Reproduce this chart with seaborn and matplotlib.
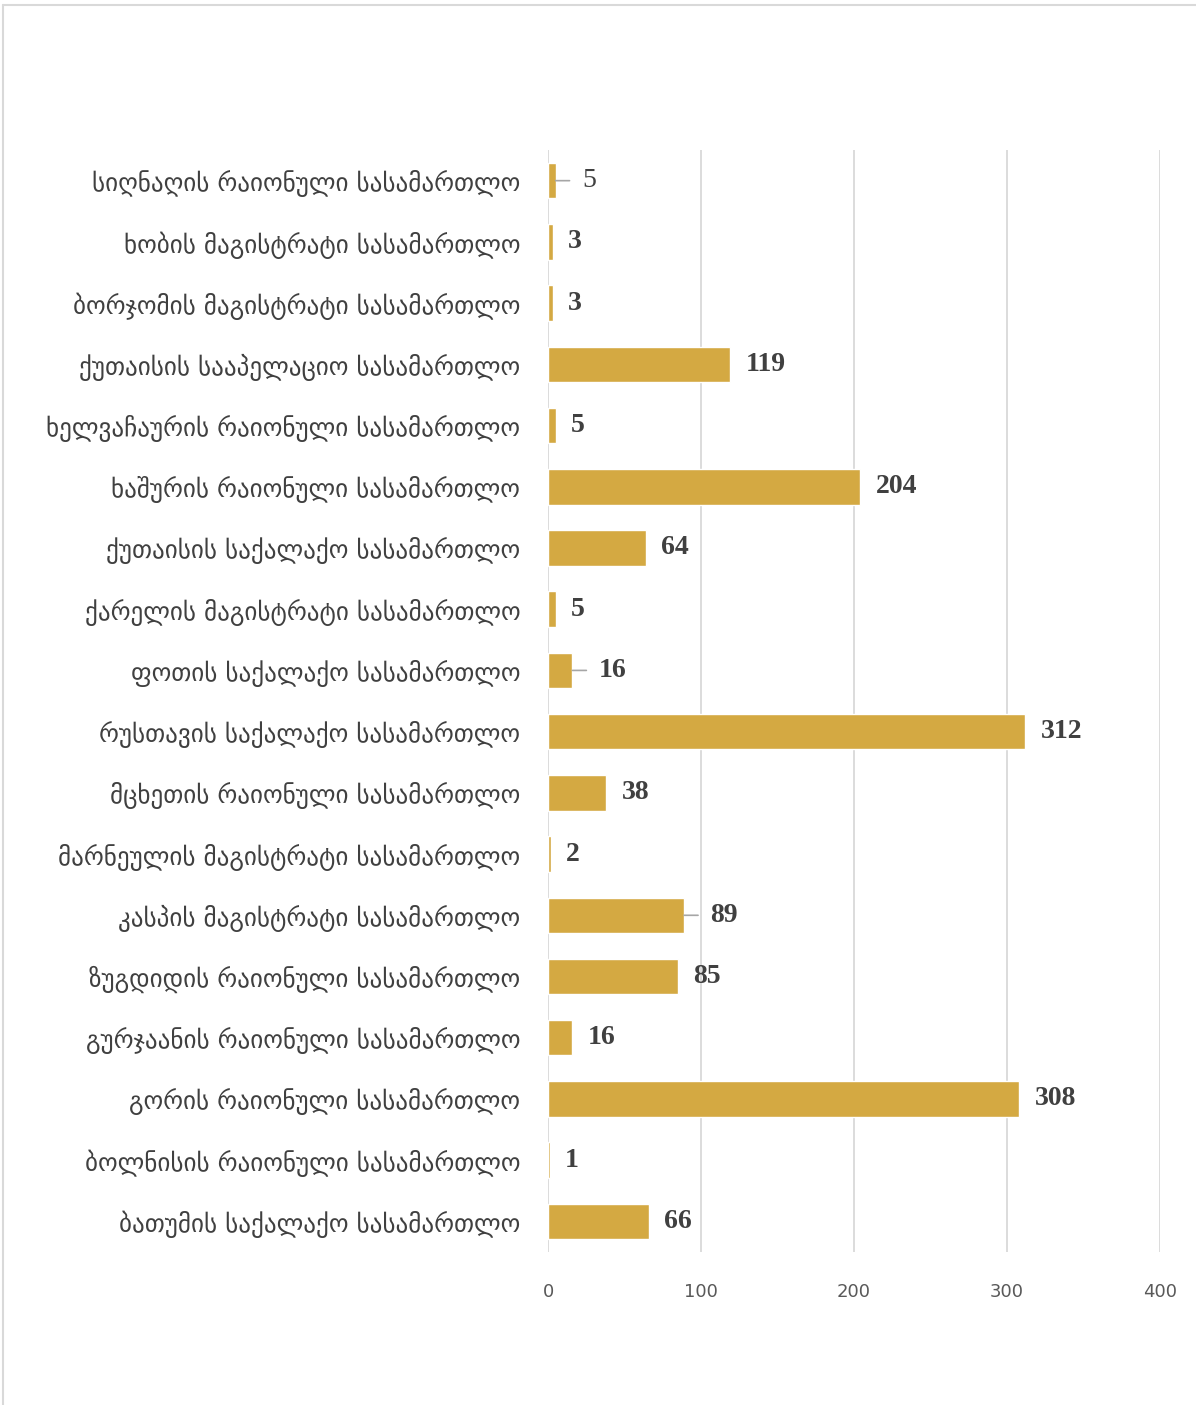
import pandas as pd
import matplotlib.pyplot as plt
import seaborn as sns
from matplotlib.lines import Line2D

courts = [
    'სიღნაღის რაიონული სასამართლო',
    'ხობის მაგისტრატი სასამართლო',
    'ბორჯომის მაგისტრატი სასამართლო',
    'ქუთაისის სააპელაციო სასამართლო',
    'ხელვაჩაურის რაიონული სასამართლო',
    'ხაშურის რაიონული სასამართლო',
    'ქუთაისის საქალაქო სასამართლო',
    'ქარელის მაგისტრატი სასამართლო',
    'ფოთის საქალაქო სასამართლო',
    'რუსთავის საქალაქო სასამართლო',
    'მცხეთის რაიონული სასამართლო',
    'მარნეულის მაგისტრატი სასამართლო',
    'კასპის მაგისტრატი სასამართლო',
    'ზუგდიდის რაიონული სასამართლო',
    'გურჯაანის რაიონული სასამართლო',
    'გორის რაიონული სასამართლო',
    'ბოლნისის რაიონული სასამართლო',
    'ბათუმის საქალაქო სასამართლო',
]
counts = [5, 3, 3, 119, 5, 204, 64, 5, 16, 312, 38, 2, 89, 85, 16, 308, 1, 66]
x_ticks = [0, 100, 200, 300, 400]

df = pd.DataFrame({'court': courts, 'count': counts})

sns.set_style('white')
plt.rcParams['font.family'] = ['DejaVu Sans']

fig = plt.figure(figsize=(11.96, 14.05), dpi=100)
ax = fig.add_axes([0.4582, 0.1089, 0.5117, 0.7843])

bar_color = '#D4A942'
sns.barplot(data=df, x='count', y='court', color=bar_color, width=0.58,
            saturation=1, ax=ax, zorder=3)

ax.set_xlim(0, 400)
ax.set_xticks(x_ticks)
ax.set_xticklabels([str(t) for t in x_ticks], fontsize=13, color='#595959')
ax.tick_params(axis='x', pad=22, length=0)
ax.tick_params(axis='y', pad=20, length=0)
for lbl in ax.get_yticklabels():
    lbl.set_fontsize(18)
    lbl.set_color('#404040')
ax.set_xlabel('')
ax.set_ylabel('')
ax.xaxis.grid(True, color='#D9D9D9', linewidth=1.3, zorder=0)
ax.set_axisbelow(True)
for s in ax.spines.values():
    s.set_visible(False)

# labels that sit further out get a short leader line
leader = {0: 8, 8: 8, 12: 8}
for i, v in enumerate(counts):
    off = leader.get(i, 0)
    ax.annotate(str(v), xy=(v, i), xytext=(11 + off, 0), textcoords='offset points',
                ha='left', va='center', fontsize=20, fontfamily='Liberation Serif',
                fontweight='bold' if i != 0 else 'normal', color='#404040')
    if off:
        ax.annotate('', xy=(v, i), xytext=(off + 2, 0), textcoords='offset points',
                    arrowprops=dict(arrowstyle='-', color='#A6A6A6', lw=1.2,
                                    shrinkA=0, shrinkB=0))

# chart area border (top and left edges visible)
fig.add_artist(Line2D([0.0025, 0.0025], [0, 0.9965], color='#D9D9D9', lw=1.5,
                      transform=fig.transFigure))
fig.add_artist(Line2D([0.0025, 1], [0.9965, 0.9965], color='#D9D9D9', lw=1.5,
                      transform=fig.transFigure))

plt.savefig('out.png', dpi=100)
